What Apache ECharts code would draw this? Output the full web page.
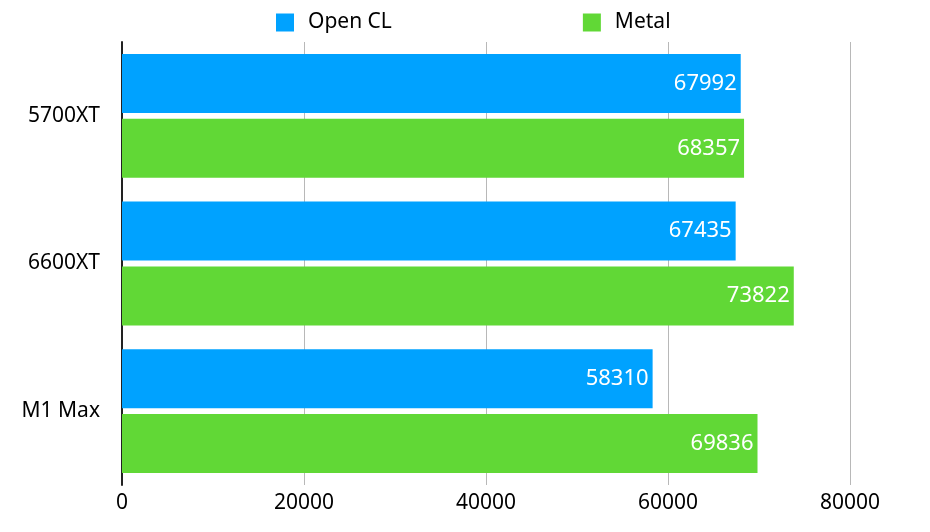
<!DOCTYPE html>
<html>
<head>
<meta charset="utf-8">
<script src="https://cdn.jsdelivr.net/npm/echarts@6/dist/echarts.min.js"></script>
<style>
  html, body { margin: 0; padding: 0; background: #fff; }
  #main { width: 930px; height: 532px; }
</style>
</head>
<body>
<div id="main"></div>
<script>
var categories = ['5700XT', '6600XT', 'M1 Max'];
var openCL = [67992, 67435, 58310];
var metal = [68357, 73822, 69836];
var xTicks = [0, 20000, 40000, 60000, 80000];

var chart = echarts.init(document.getElementById('main'));

var labelStyle = {
  show: true,
  position: 'insideRight',
  color: '#fff',
  fontSize: 22,
  fontFamily: 'Noto Sans',
  distance: 4
};

var option = {
  animation: false,
  color: ['#00a2ff', '#61d836'],
  legend: {
    data: ['Open CL', 'Metal'],
    left: 271,
    top: 7,
    itemWidth: 18,
    itemHeight: 18,
    itemGap: 191,
    icon: 'rect',
    textStyle: {
      fontSize: 21,
      color: '#000',
      fontFamily: 'Noto Sans',
      padding: [0, 0, 0, 9]
    }
  },
  grid: {
    left: 122,
    right: 80,
    top: 42,
    bottom: 47,
    containLabel: false
  },
  xAxis: {
    type: 'value',
    min: xTicks[0],
    max: xTicks[xTicks.length - 1],
    interval: 20000,
    axisLine: { show: false },
    axisTick: { show: false },
    splitLine: { show: true, lineStyle: { color: '#b8b8b8', width: 1 } },
    axisLabel: {
      color: '#000',
      fontSize: 21,
      fontFamily: 'Noto Sans',
      margin: 8,
      formatter: function (v) { return String(v); }
    }
  },
  yAxis: {
    type: 'category',
    inverse: true,
    data: categories,
    axisLine: { show: true, lineStyle: { color: '#222', width: 2 } },
    axisTick: { show: false },
    axisLabel: {
      color: '#000',
      fontSize: 21,
      fontFamily: 'Noto Sans',
      margin: 22
    }
  },
  series: [
    {
      name: 'Open CL',
      type: 'bar',
      data: openCL,
      barWidth: 59,
      barGap: '10%',
      label: labelStyle
    },
    {
      name: 'Metal',
      type: 'bar',
      data: metal,
      barWidth: 59,
      barGap: '10%',
      label: labelStyle
    }
  ]
};

chart.setOption(option);
</script>
</body>
</html>
